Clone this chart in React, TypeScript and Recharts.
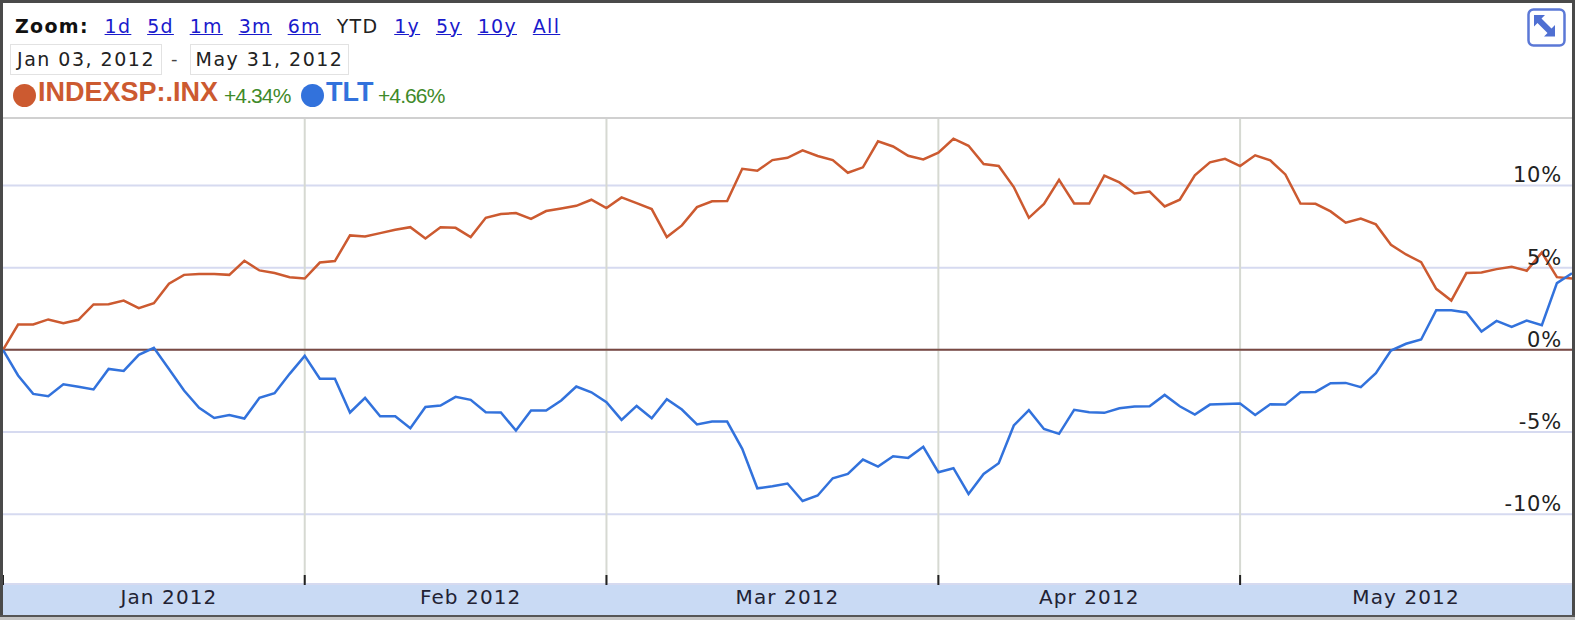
import { CartesianGrid, Line, LineChart, ReferenceLine, XAxis, YAxis } from 'recharts';

const dates = [
  'Jan 03', 'Jan 04', 'Jan 05', 'Jan 06', 'Jan 09', 'Jan 10', 'Jan 11', 'Jan 12', 'Jan 13', 'Jan 17',
  'Jan 18', 'Jan 19', 'Jan 20', 'Jan 23', 'Jan 24', 'Jan 25', 'Jan 26', 'Jan 27', 'Jan 30', 'Jan 31',
  'Feb 01', 'Feb 02', 'Feb 03', 'Feb 06', 'Feb 07', 'Feb 08', 'Feb 09', 'Feb 10', 'Feb 13', 'Feb 14',
  'Feb 15', 'Feb 16', 'Feb 17', 'Feb 21', 'Feb 22', 'Feb 23', 'Feb 24', 'Feb 27', 'Feb 28', 'Feb 29',
  'Mar 01', 'Mar 02', 'Mar 05', 'Mar 06', 'Mar 07', 'Mar 08', 'Mar 09', 'Mar 12', 'Mar 13', 'Mar 14',
  'Mar 15', 'Mar 16', 'Mar 19', 'Mar 20', 'Mar 21', 'Mar 22', 'Mar 23', 'Mar 26', 'Mar 27', 'Mar 28',
  'Mar 29', 'Mar 30', 'Apr 02', 'Apr 03', 'Apr 04', 'Apr 05', 'Apr 09', 'Apr 10', 'Apr 11', 'Apr 12',
  'Apr 13', 'Apr 16', 'Apr 17', 'Apr 18', 'Apr 19', 'Apr 20', 'Apr 23', 'Apr 24', 'Apr 25', 'Apr 26',
  'Apr 27', 'Apr 30', 'May 01', 'May 02', 'May 03', 'May 04', 'May 07', 'May 08', 'May 09', 'May 10',
  'May 11', 'May 14', 'May 15', 'May 16', 'May 17', 'May 18', 'May 21', 'May 22', 'May 23', 'May 24',
  'May 25', 'May 28', 'May 29', 'May 30', 'May 31',
];

const spx = [
  0, 1.54, 1.54, 1.85, 1.62, 1.83, 2.76, 2.78, 3.0, 2.54,
  2.84, 4.02, 4.56, 4.62, 4.62, 4.56, 5.42, 4.83, 4.67, 4.42,
  4.34, 5.31, 5.4, 6.96, 6.9, 7.1, 7.3, 7.46, 6.77, 7.46,
  7.42, 6.86, 8.03, 8.26, 8.32, 7.97, 8.44, 8.6, 8.76, 9.13,
  8.62, 9.27, 8.92, 8.56, 6.86, 7.57, 8.68, 9.03, 9.05, 11.01,
  10.89, 11.54, 11.68, 12.13, 11.79, 11.54, 10.77, 11.1, 12.68, 12.37,
  11.8, 11.58, 11.99, 12.84, 12.41, 11.3, 11.18, 9.9, 8.03, 8.88,
  10.34, 8.9, 8.9, 10.59, 10.18, 9.51, 9.63, 8.72, 9.13, 10.61,
  11.4, 11.62, 11.18, 11.83, 11.52, 10.67, 8.9, 8.88, 8.42, 7.73,
  7.99, 7.63, 6.39, 5.8, 5.33, 3.71, 3.0, 4.67, 4.71, 4.91,
  5.05, 4.81, 5.92, 4.42, 4.34,
];

const tlt = [
  0, -1.56, -2.68, -2.82, -2.09, -2.25, -2.41, -1.16, -1.28, -0.3,
  0.12, -1.16, -2.47, -3.53, -4.14, -3.96, -4.18, -2.92, -2.64, -1.46,
  -0.37, -1.76, -1.76, -3.81, -2.92, -4.04, -4.04, -4.77, -3.47, -3.39,
  -2.86, -3.04, -3.79, -3.81, -4.91, -3.69, -3.69, -3.08, -2.23, -2.58,
  -3.18, -4.26, -3.41, -4.16, -3.0, -3.63, -4.54, -4.36, -4.36, -6.02,
  -8.42, -8.3, -8.13, -9.19, -8.86, -7.81, -7.55, -6.67, -7.1, -6.47,
  -6.57, -5.9, -7.44, -7.2, -8.76, -7.55, -6.9, -4.6, -3.67, -4.81,
  -5.11, -3.65, -3.79, -3.83, -3.55, -3.45, -3.43, -2.74, -3.43, -3.94,
  -3.33, -3.29, -3.27, -3.96, -3.31, -3.33, -2.58, -2.56, -2.03, -2.01,
  -2.27, -1.42, -0.04, 0.37, 0.63, 2.41, 2.41, 2.27, 1.12, 1.76,
  1.4, 1.78, 1.5, 4.06, 4.66,
];

const monthStarts = ['Jan 03', 'Feb 01', 'Mar 01', 'Apr 02', 'May 01'];
const monthLabelDates = ['Jan 19', 'Feb 16', 'Mar 19', 'Apr 17', 'May 16'];
const monthLabels = ['Jan 2012', 'Feb 2012', 'Mar 2012', 'Apr 2012', 'May 2012'];
const yTicks = [-10, -5, 0, 5, 10];
const zoomLinks = ['1d', '5d', '1m', '3m', '6m', 'YTD', '1y', '5y', '10y', 'All'];

const data = dates.map((date, i) => ({ date, spx: spx[i], tlt: tlt[i] }));

const FONT = '"DejaVu Sans", sans-serif';
const ARIAL = '"Liberation Sans", Arial, sans-serif';
const RED = '#cc5a30';
const BLUE = '#3272dc';

function MonthTick({ x, y }: any) {
  return <line x1={x} x2={x} y1={y - 17} y2={y - 7} stroke="#222" strokeWidth={2} />;
}

function PercentTick({ x, y, payload }: any) {
  return (
    <text x={x - 2} y={y - 3} textAnchor="end" fontFamily={FONT} fontSize={21} letterSpacing={0.8} fill="#222">
      {payload.value}%
    </text>
  );
}

function DateBox({ left, width, text }: { left: number; width: number; text: string }) {
  return (
    <div
      style={{
        position: 'absolute', left, top: 44, width, height: 31, boxSizing: 'border-box',
        border: '1px solid #e2e2e2', fontFamily: FONT, fontSize: 19, letterSpacing: 1.5,
        lineHeight: '29px', textAlign: 'center', color: '#222', whiteSpace: 'nowrap',
      }}
    >
      {text}
    </div>
  );
}

function LegendItem({ dot, name, change, color, nameLeft, changeLeft }: any) {
  const circle = { position: 'absolute', left: dot, top: 84, width: 23, height: 23, borderRadius: '50%', background: color } as const;
  return (
    <>
      <div style={circle} />
      <div style={{ position: 'absolute', left: nameLeft, top: 77, fontFamily: ARIAL, fontWeight: 700, fontSize: 27, color, whiteSpace: 'nowrap' }}>
        {name}
      </div>
      <div style={{ position: 'absolute', left: changeLeft, top: 84, fontFamily: ARIAL, fontSize: 21, letterSpacing: -0.9, color: '#3f8a2a', whiteSpace: 'nowrap' }}>
        {change}
      </div>
    </>
  );
}

export default function App() {
  return (
    <div style={{ position: 'absolute', left: 0, top: 0, width: 1575, height: 620, background: '#fff', overflow: 'hidden' }}>
      <div style={{ position: 'absolute', left: 3, top: 584, width: 1569, height: 31, background: '#c9daf4' }} />

      <div style={{ position: 'absolute', left: 15, top: 15, display: 'flex', gap: 15.8, fontFamily: FONT, fontSize: 19, letterSpacing: 1.3, whiteSpace: 'nowrap' }}>
        <span style={{ fontWeight: 700, color: '#111' }}>Zoom:</span>
        {zoomLinks.map((z) => (
          <span key={z} style={z === 'YTD' ? { color: '#222' } : { color: '#1a1acc', textDecoration: 'underline' }}>
            {z}
          </span>
        ))}
      </div>

      <DateBox left={10} width={152} text="Jan 03, 2012" />
      <div style={{ position: 'absolute', left: 171, top: 48, fontFamily: FONT, fontSize: 18, color: '#444' }}>-</div>
      <DateBox left={190} width={159} text="May 31, 2012" />

      <LegendItem dot={13} name="INDEXSP:.INX" change="+4.34%" color={RED} nameLeft={38} changeLeft={224} />
      <LegendItem dot={301} name="TLT" change="+4.66%" color={BLUE} nameLeft={326} changeLeft={378} />

      <svg style={{ position: 'absolute', left: 1527, top: 8 }} width={39} height={39} viewBox="0 0 39 39">
        <rect x={1.5} y={1.5} width={36} height={36} rx={5} fill="#fff" stroke="#5b78d6" strokeWidth={2.5} />
        <path d="M7 7h11l-3.5 3.5 10 10L28 17v11.5H17l3.5-3.5-10-10L7 18.5z" fill="#4f6fd2" />
      </svg>

      <div style={{ position: 'absolute', left: 0, top: 0 }}>
        <LineChart width={1575} height={620} data={data} margin={{ top: 118, right: 3, bottom: 7, left: 3 }}>
          <CartesianGrid vertical={false} stroke="#d6daf0" strokeWidth={2} />
          <XAxis
            xAxisId={0}
            dataKey="date"
            height={1}
            ticks={monthStarts}
            interval={0}
            axisLine={false}
            tickLine={false}
            tick={<MonthTick />}
          />
          <XAxis
            xAxisId={1}
            dataKey="date"
            height={28}
            ticks={monthLabelDates}
            interval={0}
            axisLine={false}
            tickLine={false}
            tickMargin={-1}
            tickFormatter={(d: string) => monthLabels[monthLabelDates.indexOf(d)]}
            tick={{ fill: '#223', fontFamily: FONT, fontSize: 20, letterSpacing: 1.1 }}
          />
          <YAxis
            orientation="right"
            mirror
            width={1}
            domain={[-14.24, 14.1]}
            ticks={yTicks}
            allowDataOverflow
            axisLine={false}
            tickLine={false}
            tick={<PercentTick />}
          />
          {monthStarts.slice(1).map((m) => (
            <ReferenceLine key={m} xAxisId={0} x={m} stroke="#d6d9d2" strokeWidth={2} />
          ))}
          <ReferenceLine xAxisId={0} y={0} stroke="#7a4a42" strokeWidth={2} />
          <Line xAxisId={0} dataKey="spx" stroke={RED} strokeWidth={2.5} dot={false} isAnimationActive={false} />
          <Line xAxisId={0} dataKey="tlt" stroke={BLUE} strokeWidth={2.5} dot={false} isAnimationActive={false} />
        </LineChart>
      </div>

      <div style={{ position: 'absolute', left: 3, top: 117, width: 1569, height: 2, background: '#d0d0d0' }} />

      {/* screenshot frame */}
      <div style={{ position: 'absolute', left: 0, top: 0, width: 3, height: 620, background: '#4a4a4a' }} />
      <div style={{ position: 'absolute', left: 0, top: 0, width: 1575, height: 3, background: '#4a4a4a' }} />
      <div style={{ position: 'absolute', left: 1572, top: 0, width: 3, height: 620, background: '#4a4a4a' }} />
      <div style={{ position: 'absolute', left: 0, top: 615, width: 1575, height: 5, background: '#c4c4c4', borderTop: '2px solid #555', boxSizing: 'border-box' }} />
    </div>
  );
}
